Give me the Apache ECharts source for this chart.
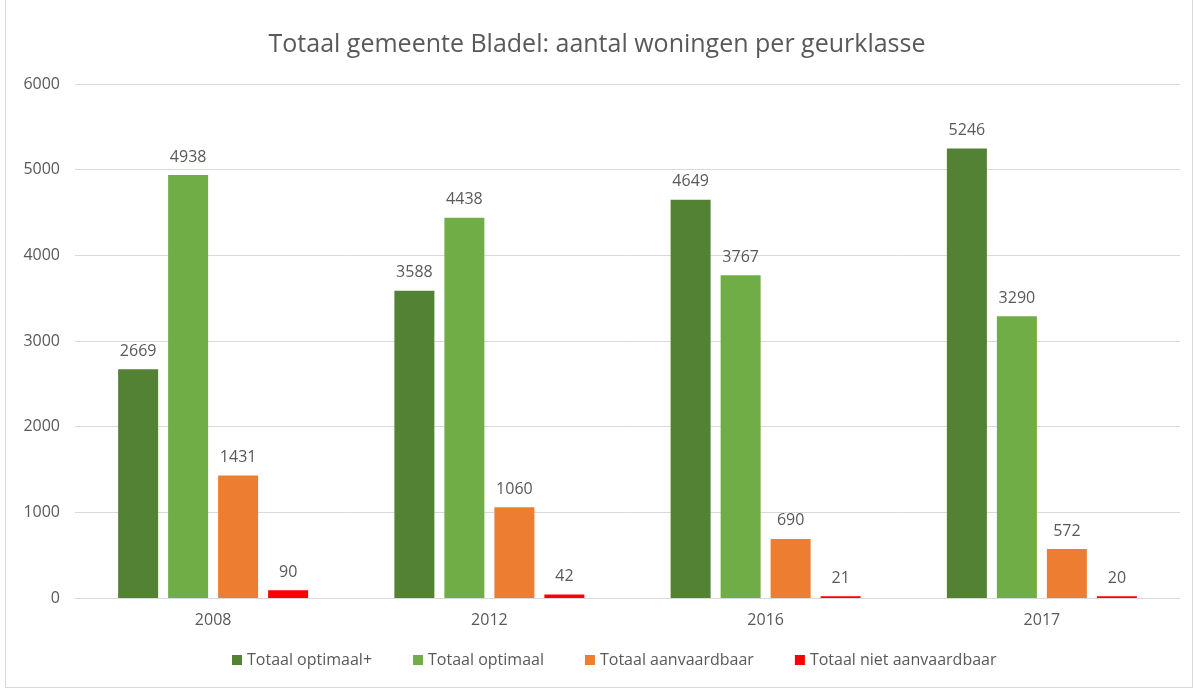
<!DOCTYPE html>
<html>
<head>
<meta charset="utf-8">
<script src="https://cdn.jsdelivr.net/npm/echarts@6/dist/echarts.min.js"></script>
<style>
  html, body { margin: 0; padding: 0; background: #fff; }
  #frame { position: absolute; left: 5px; top: 0; width: 1186px; height: 687px; border: 1px solid #d9d9d9; border-top: none; }
  #chart { position: absolute; left: 0; top: 0; width: 1194px; height: 689px; }
</style>
</head>
<body>
<div id="frame"></div>
<div id="chart"></div>
<script>
var jaren = ['2008', '2012', '2016', '2017'];
var optimaalPlus = [2669, 3588, 4649, 5246];
var optimaal = [4938, 4438, 3767, 3290];
var aanvaardbaar = [1431, 1060, 690, 572];
var nietAanvaardbaar = [90, 42, 21, 20];
var reeksNamen = ['Totaal optimaal+', 'Totaal optimaal', 'Totaal aanvaardbaar', 'Totaal niet aanvaardbaar'];
var kleuren = ['#548235', '#70ad47', '#ed7d31', '#ff0000'];

var fontNaam = '"Open Sans", "Noto Sans", sans-serif';
var myChart = echarts.init(document.getElementById('chart'));

function maakReeks(naam, data) {
	return {
		name : naam,
		type : 'bar',
		barWidth : 40,
		barGap : '25%',
		data : data,
		label : {
			show : true,
			position : 'top',
			distance : 10,
			color : '#595959',
			fontSize : 16,
			fontFamily : fontNaam
		}
	};
}

myChart.setOption({
	animation : false,
	color : kleuren,
	title : {
		text : 'Totaal gemeente Bladel: aantal woningen per geurklasse',
		left : 'center',
		top : 27,
		textStyle : {
			color : '#595959',
			fontSize : 25,
			fontWeight : 'normal',
			fontFamily : fontNaam
		}
	},
	legend : {
		data : reeksNamen,
		bottom : 16,
		left : 227,
		itemWidth : 10,
		itemHeight : 10,
		itemGap : 41,
		icon : 'rect',
		textStyle : {
			color : '#595959',
			fontSize : 16,
			fontFamily : fontNaam
		}
	},
	grid : {
		left : 75,
		right : 14,
		top : 84,
		bottom : 91
	},
	xAxis : {
		type : 'category',
		data : jaren,
		axisLine : { lineStyle : { color : '#d9d9d9' } },
		axisTick : { show : false },
		axisLabel : {
			color : '#595959',
			fontSize : 16,
			margin : 14,
			fontFamily : fontNaam
		}
	},
	yAxis : {
		type : 'value',
		min : 0,
		max : 6000,
		interval : 1000,
		axisLine : { show : false },
		axisTick : { show : false },
		splitLine : { lineStyle : { color : '#d9d9d9' } },
		axisLabel : {
			color : '#595959',
			fontSize : 16,
			margin : 15,
			fontFamily : fontNaam,
			formatter : function(v) { return String(v); }
		}
	},
	series : [
		maakReeks(reeksNamen[0], optimaalPlus),
		maakReeks(reeksNamen[1], optimaal),
		maakReeks(reeksNamen[2], aanvaardbaar),
		maakReeks(reeksNamen[3], nietAanvaardbaar)
	]
});
</script>
</body>
</html>
